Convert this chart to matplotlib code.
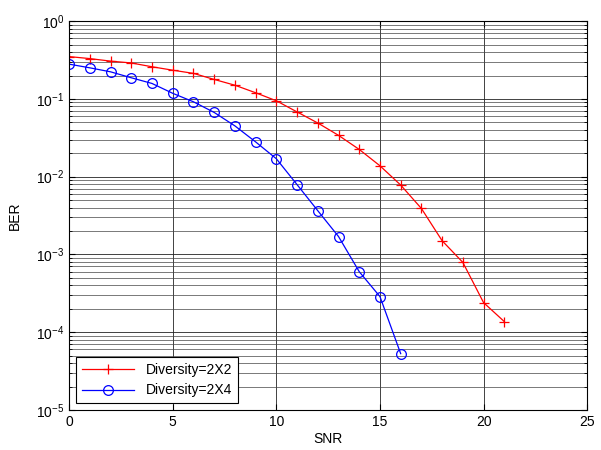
import numpy as np
import matplotlib.pyplot as plt
from matplotlib.ticker import LogLocator, FixedLocator, NullFormatter

plt.rcParams['font.family'] = ['Liberation Sans', 'DejaVu Sans']
plt.rcParams['mathtext.default'] = 'regular'

## data ################################
snr_2x2 = list(range(0, 22))
ber_2x2 = [0.35, 0.33, 0.306, 0.29, 0.259, 0.234, 0.213, 0.178, 0.150, 0.12,
           0.0946, 0.068, 0.049, 0.034, 0.0224, 0.0138, 0.0078, 0.0039,
           0.0015, 7.9e-4, 2.4e-4, 1.37e-4]
snr_2x4 = list(range(0, 17))
ber_2x4 = [0.28, 0.251, 0.223, 0.187, 0.158, 0.118, 0.0918, 0.067, 0.045,
           0.028, 0.017, 0.0079, 0.00365, 0.0017, 6.0e-4, 2.87e-4, 5.3e-5]
labels = ['Diversity=2X2', 'Diversity=2X4']
x_ticks = [0, 5, 10, 15, 20, 25]

## plot ################################
fig = plt.figure(figsize=(6.01, 4.5), dpi=100)
ax = fig.add_axes([0.115, 0.089, 0.862, 0.864])

ax.semilogy(snr_2x2, ber_2x2, 'r-+', lw=0.9, ms=7, mew=0.9, label=labels[0])
ax.semilogy(snr_2x4, ber_2x4, 'b-o', lw=0.9, ms=7, mew=0.9, mfc='none', label=labels[1])

ax.set_xlim(0, 25)
ax.set_ylim(1e-5, 1)
ax.xaxis.set_major_locator(FixedLocator(x_ticks))
ax.yaxis.set_major_locator(LogLocator(base=10, numticks=10))
ax.yaxis.set_minor_locator(LogLocator(base=10, subs=np.arange(2, 10), numticks=20))
ax.yaxis.set_minor_formatter(NullFormatter())

# matlab style grid: vertical majors, horizontal majors + minors
ax.grid(True, which='major', axis='both', color='#222222', lw=0.6)
ax.grid(True, which='minor', axis='y', color='#444444', lw=0.5)
ax.set_axisbelow(True)

ax.tick_params(which='both', direction='in', top=True, right=True, labelsize=10)
ax.tick_params(which='major', length=4)
ax.tick_params(which='minor', length=2.5)
for s in ax.spines.values():
    s.set_linewidth(0.8)

ax.set_xlabel('SNR', fontsize=10, labelpad=2)
ax.set_ylabel('BER', fontsize=10, labelpad=10)

leg = ax.legend(loc='lower left', fontsize=10, fancybox=False, framealpha=1,
                edgecolor='black', borderaxespad=0.5, handlelength=3.8)
leg.get_frame().set_linewidth(0.8)

fig.savefig('out.png', dpi=100)
